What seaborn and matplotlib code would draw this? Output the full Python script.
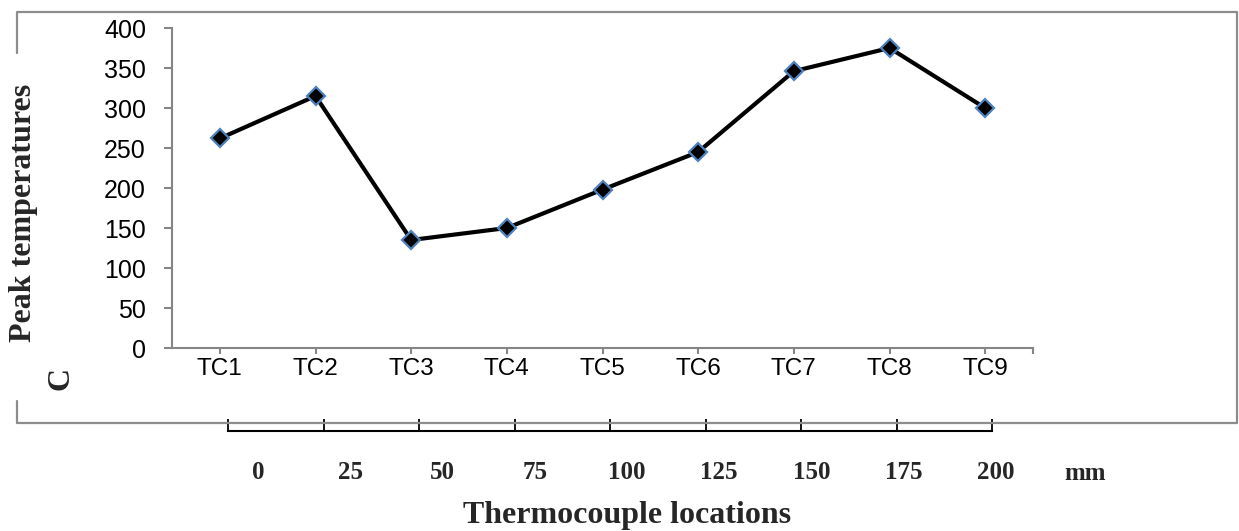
import matplotlib
matplotlib.use("Agg")
import matplotlib.pyplot as plt
from matplotlib import font_manager
from matplotlib.lines import Line2D
import seaborn as sns
import pandas as pd

# ---- data ----
categories = ["TC1", "TC2", "TC3", "TC4", "TC5", "TC6", "TC7", "TC8", "TC9"]
peak_temps = [262, 315, 135, 150, 198, 245, 346, 375, 300]
y_ticks = [0, 50, 100, 150, 200, 250, 300, 350, 400]
mm_ticks = [0, 25, 50, 75, 100, 125, 150, 175, 200]

sns.set_theme(style="white")
names = {f.name for f in font_manager.fontManager.ttflist}
sans = "Liberation Sans Narrow" if "Liberation Sans Narrow" in names else "Liberation Sans"
serif = "Liberation Serif"
plt.rcParams["font.family"] = [sans, "DejaVu Sans"]

W, H = 1239, 531
fig = plt.figure(figsize=(W / 100, H / 100), dpi=100)
fig.patch.set_facecolor("white")

def fx(px):
    return px / W

def fy(py):
    return 1 - py / H

gray = "#868686"

# ---- main axes ----
ax = fig.add_axes([fx(172), fy(348), fx(1033 - 172), (348 - 28) / H])
df = pd.DataFrame({"loc": categories, "temp": peak_temps})
sns.lineplot(data=df, x="loc", y="temp", ax=ax, sort=False, color="black",
             lw=3.0, marker="D", markersize=9.5, markerfacecolor="black",
             markeredgecolor="#4f81bd", markeredgewidth=1.6)
ax.set_xlim(-0.5, len(categories) - 0.5)
ax.set_ylim(0, 400)
ax.set_yticks(y_ticks)
ax.set_xlabel("")
ax.set_ylabel("")
for s in ["top", "right"]:
    ax.spines[s].set_visible(False)
for s in ["left", "bottom"]:
    ax.spines[s].set_color(gray)
    ax.spines[s].set_linewidth(1.5)
ax.tick_params(axis="y", direction="out", length=5.8, width=1.5, color=gray,
               pad=13, labelsize=18, labelcolor="black", left=True)
ax.tick_params(axis="x", direction="out", length=4.3, width=1.5, color=gray,
               pad=3, labelsize=17.5, labelcolor="black", bottom=True)
ax.set_xticks([len(categories) - 0.5], minor=True)
ax.tick_params(axis="x", which="minor", direction="out", length=4.3,
               width=1.5, color=gray, bottom=True)
ax.grid(False)

# ---- secondary mm scale line ----
ax2 = fig.add_axes([fx(228), fy(431), fx(992 - 228), 0.0001])
ax2.set_xlim(0, 200)
ax2.set_xticks(mm_ticks)
ax2.set_yticks([])
for s in ["top", "right", "left"]:
    ax2.spines[s].set_visible(False)
ax2.spines["bottom"].set_color("black")
ax2.spines["bottom"].set_linewidth(1.5)
ax2.tick_params(axis="x", direction="in", length=9, width=1.3, color="black",
                labelbottom=False, bottom=True)
ax2.patch.set_alpha(0)

# ---- mm labels ----
ax3 = fig.add_axes([fx(258), fy(461), fx(996 - 258), 0.0001])
ax3.set_xlim(0, 200)
ax3.set_xticks(mm_ticks)
ax3.set_xticklabels([str(v) for v in mm_ticks], fontfamily=serif,
                    fontweight="bold", fontsize=18)
ax3.set_yticks([])
for s in ax3.spines.values():
    s.set_visible(False)
ax3.tick_params(axis="x", length=0, pad=0, bottom=True)
ax3.patch.set_alpha(0)

fig.text(fx(1085), fy(473), "mm", ha="center", va="center",
         fontfamily=serif, fontweight="bold", fontsize=18)
fig.text(fx(627), fy(523), "Thermocouple locations", ha="center",
         va="baseline", fontfamily=serif, fontweight="bold", fontsize=23)
fig.text(fx(24), fy(213), "Peak temperatures", rotation=90, ha="center",
         va="center", fontfamily=serif, fontweight="bold", fontsize=23)
fig.text(fx(61), fy(379), "C", rotation=90, ha="center", va="center",
         fontfamily=serif, fontweight="bold", fontsize=23)

# ---- outer chart border ----
bx = [17, 17, 1237, 1237, 17, 17]
by = [401, 423, 423, 12, 12, 53]
fig.add_artist(Line2D([fx(v) for v in bx], [fy(v) for v in by],
                      transform=fig.transFigure, color="#8c8c8c", lw=1.6))

fig.savefig("out.png", dpi=100, facecolor="white")
